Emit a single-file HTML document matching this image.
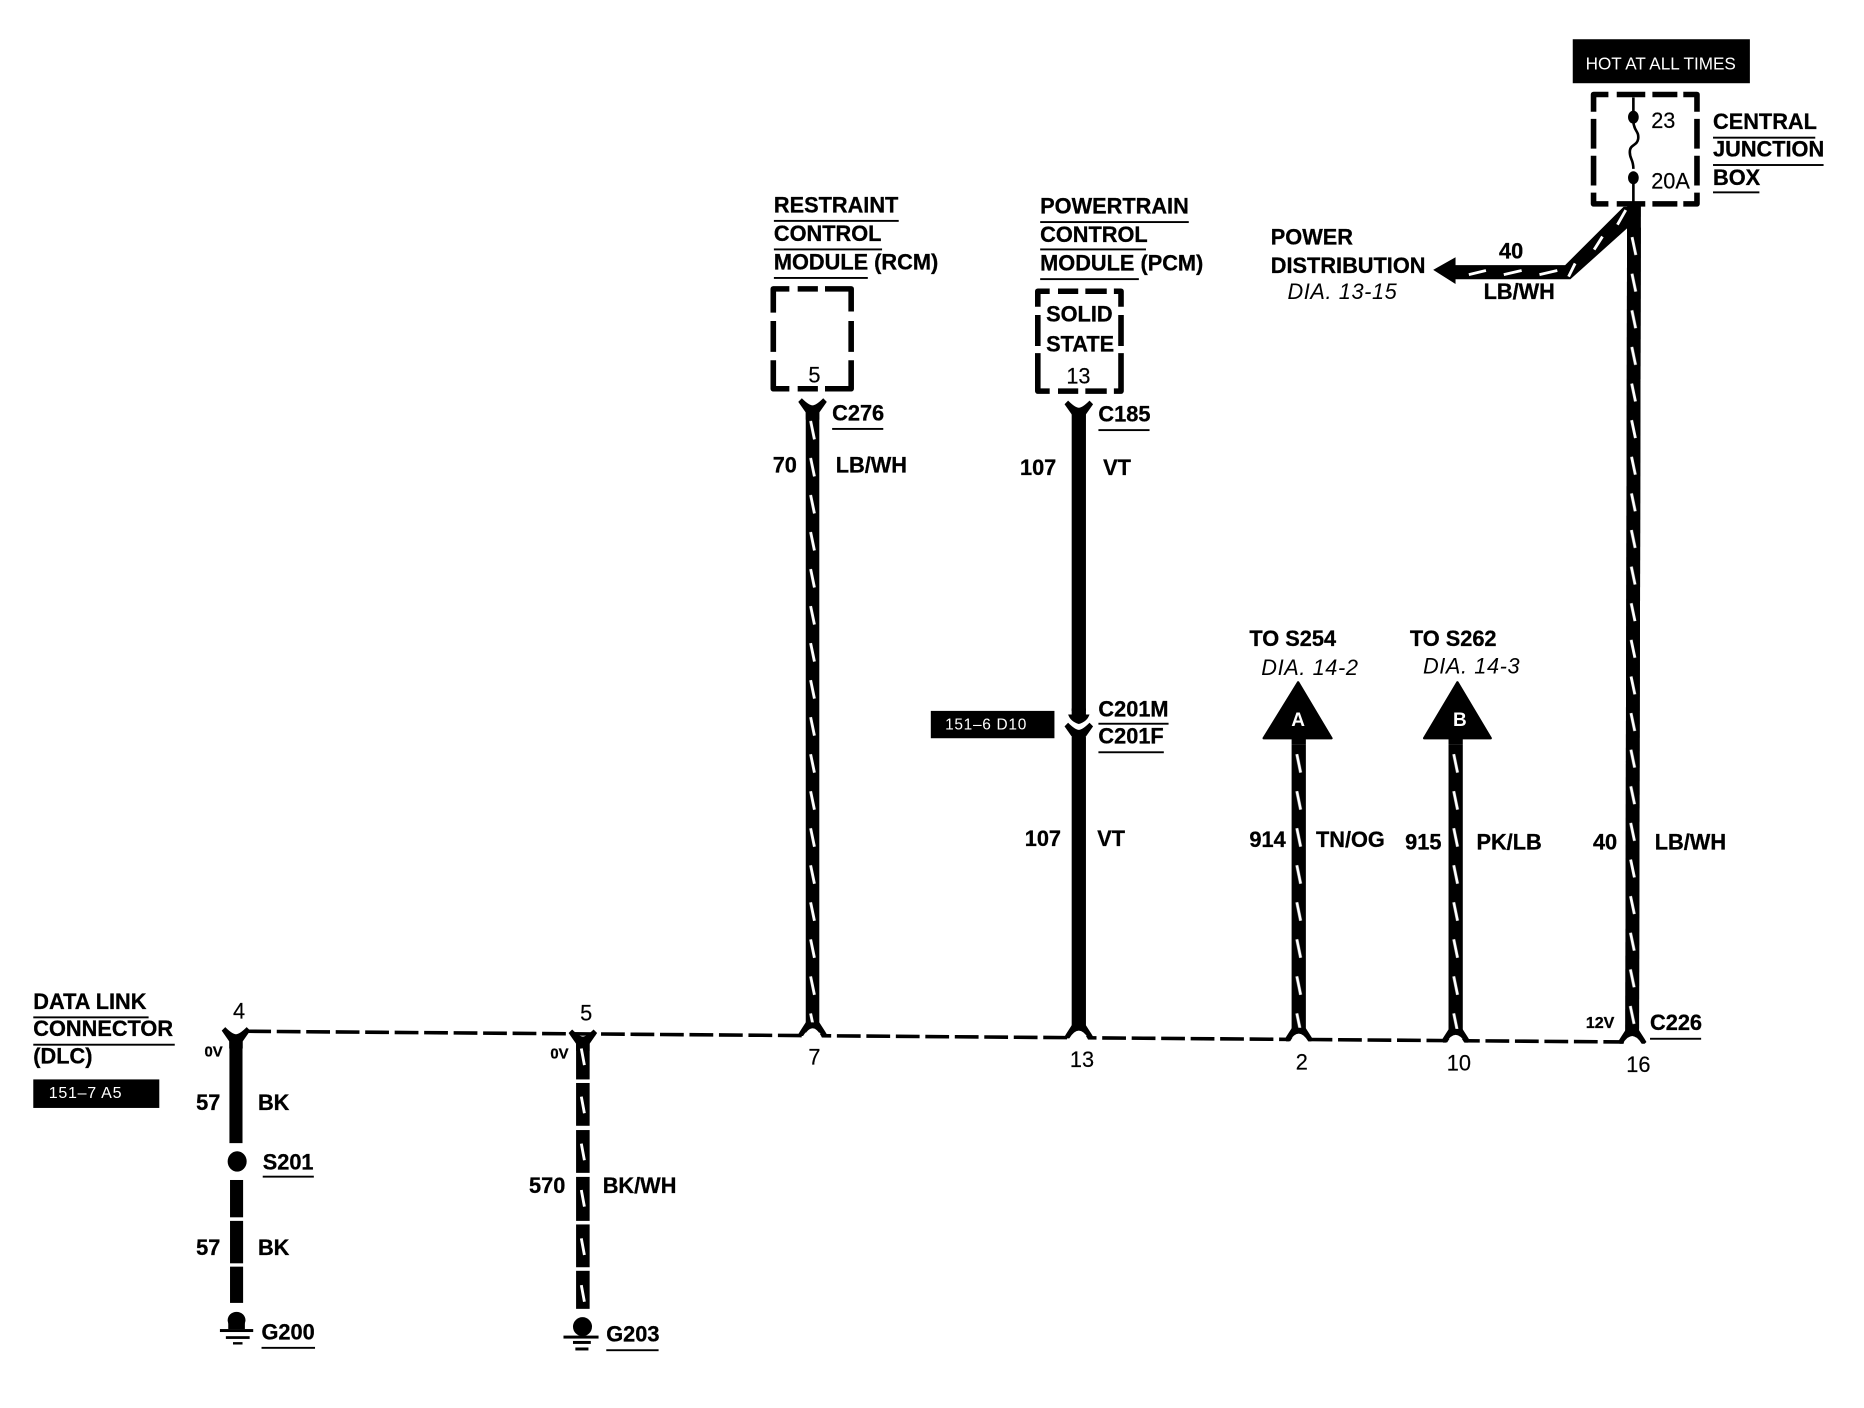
<!DOCTYPE html>
<html><head><meta charset="utf-8"><style>
html,body{margin:0;padding:0;background:#fff}
svg{display:block}
text{font-family:"Liberation Sans",sans-serif;font-weight:700;font-size:18.3px;fill:#000;stroke:#000;stroke-width:.25;transform:translate(0,.6px)}
.r{font-weight:400;stroke-width:.15}
.i{font-weight:400;font-style:italic;stroke-width:0;letter-spacing:.5px}
text.w{fill:#fff;stroke:none}
.s{font-size:13px}
</style></head><body>
<svg width="1864" height="1408" viewBox="0 0 1568 1184.4" xmlns="http://www.w3.org/2000/svg">
<defs>
<pattern id="t0" patternUnits="userSpaceOnUse" x="-7" y="0" width="14" height="31.15">
<rect x="0" y="0" width="14" height="31.15" fill="#000"/><path d="M5.4 8 L8.6 23.5" stroke="#fff" stroke-width="2.4"/>
</pattern>
<pattern id="t1" patternUnits="userSpaceOnUse" x="-7" y="0" width="14" height="30.8">
<rect x="0" y="0" width="14" height="30.8" fill="#000"/><path d="M5.4 8 L8.6 23" stroke="#fff" stroke-width="2.4"/>
</pattern>
<g id="yb"><path d="M-8 3 Q-4 -5 0 -5 Q4 -5 8 3Z" fill="#fff"/><path d="M-5.7 -10 L-10.5 -2.5 L-12 0 L-10.5 1.5 L-8 1.5 Q-4 -5 0 -5 Q4 -5 8 1.5 L10.5 1.5 L12 0 L10.5 -2.5 L5.7 -10Z" fill="#000"/></g>
<g id="yt"><path d="M-12 -6 L-9 -9 Q-3 -3 0 -3 Q3 -3 9 -9 L12 -6 L5.7 3 V9 H-5.7 V3Z" fill="#000"/></g>
</defs>

<!-- junction box -->
<rect x="1323" y="33" width="149" height="37" fill="#000"/>
<text class="r w" x="1397" y="58" text-anchor="middle" style="font-size:14.4px">HOT AT ALL TIMES</text>
<g fill="none" stroke="#000" stroke-width="4.7" stroke-linejoin="round">
<path d="M1340.5 94 V79.5 H1353 M1360 79.5 H1384 M1390 79.5 H1411 M1416 79.5 H1427.5 V94 M1340.5 100 V125 M1427.5 100 V125 M1340.5 131 V156 M1427.5 131 V156 M1340.5 162 V171.5 H1353 M1360 171.5 H1384 M1390 171.5 H1411 M1416 171.5 H1427.5 V162"/>
<path d="M650.5 263 V243 H664 M671 243 H688 M694 243 H716 V262 M650.5 270 V296 M716 270 V296 M650.5 303 V327 H664 M671 327 H688 M694 327 H716 V303"/>
<path d="M873 258 V245 H883 M890 245 H907 M913 245 H931 M937 245 H943 V258 M873 265 V291 M943 265 V291 M873 297 V322 M943 297 V322 M873 322 V329 H883 M890 329 H907 M913 329 H931 M937 329 H943 V322"/>
</g>
<path d="M1374 82 V94 M1374 102 C1374 110 1379 110 1378 117 C1377 123 1371 121 1371 128 C1371 134 1374 134 1374 142 M1374 154 V172" fill="none" stroke="#000" stroke-width="2.2"/>
<ellipse cx="1374" cy="98.5" rx="4.5" ry="5.5"/><ellipse cx="1374" cy="149.5" rx="4.5" ry="5.5"/>
<text class="r" x="1389" y="107">23</text><text class="r" x="1389" y="158">20A</text>
<text x="1441" y="108">CENTRAL</text><rect x="1441" y="115" width="86" height="1.6"/>
<text x="1441" y="131">JUNCTION</text><rect x="1441" y="138" width="93" height="1.6"/>
<text x="1441" y="155">BOX</text><rect x="1441" y="161" width="39" height="1.6"/>

<!-- power distribution -->
<text x="1069" y="205">POWER</text><text x="1069" y="229">DISTRIBUTION</text>
<text class="i" x="1083" y="251">DIA. 13-15</text>
<text x="1261" y="217">40</text><text x="1248" y="251">LB/WH</text>
<path d="M1205.6 227 L1224.4 216.4 V223 H1316.6 L1365.8 173.9 H1375 V190 H1371 L1321 234.9 H1224.4 V238.9Z" fill="#000"/>
<path d="M1235.6 231 L1250 227.5 M1265 231 L1280 227.5 M1295 231 L1310 227.5 M1319.5 232.7 L1325 221.6 M1341 210 L1348 199 M1360.6 189 L1367.6 176.7" stroke="#fff" stroke-width="2.4" fill="none"/>
<g transform="translate(1374.5,191.5) rotate(0.13)"><rect x="-5.8" y="-19" width="11.6" height="700" fill="#000"/><rect x="-5.8" y="0" width="11.6" height="677" fill="url(#t1)"/></g>

<!-- RCM -->
<text x="651" y="178">RESTRAINT</text><rect x="651" y="185" width="105" height="1.6"/>
<text x="651" y="202">CONTROL</text><rect x="651" y="209" width="91" height="1.6"/>
<text x="651" y="226">MODULE (RCM)</text><rect x="651" y="233" width="79" height="1.6"/>
<text class="r" x="680" y="321">5</text>
<use href="#yt" x="683.5" y="344"/>
<g transform="translate(683.5,346.1)"><rect x="-5.7" y="0" width="11.4" height="524" fill="url(#t0)"/></g>
<text x="700" y="353">C276</text><rect x="700" y="360" width="43" height="1.6"/>
<text x="650" y="397">70</text><text x="703" y="397">LB/WH</text>

<!-- PCM -->
<text x="875" y="179">POWERTRAIN</text><rect x="875" y="186" width="125" height="1.6"/>
<text x="875" y="203">CONTROL</text><rect x="875" y="209" width="89" height="1.6"/>
<text x="875" y="227">MODULE (PCM)</text><rect x="875" y="234" width="83" height="1.6"/>
<text x="880" y="270">SOLID</text><text x="880" y="295">STATE</text>
<text class="r" x="897" y="322">13</text>
<use href="#yt" x="907.5" y="346"/>
<rect x="901.5" y="346" width="12" height="252"/>
<path d="M901.5 596 V601 L898.5 601 Q900.5 607 907.5 609 Q914.5 607 916.5 601 L913.5 601 V596Z" fill="#000"/>
<use href="#yt" x="907.5" y="617"/>
<rect x="901.5" y="620" width="12" height="245"/>
<text x="924" y="354">C185</text><rect x="924" y="361" width="43" height="1.6"/>
<text x="858" y="399">107</text><text x="928" y="399">VT</text>
<text x="924" y="602">C201M</text><rect x="924" y="608" width="59" height="1.6"/>
<text x="924" y="625">C201F</text><rect x="924" y="632" width="55" height="1.6"/>
<rect x="783" y="598" width="104" height="23"/>
<text class="r w" x="795" y="613" style="font-size:13px;letter-spacing:.6px">151–6 D10</text>
<text x="862" y="711">107</text><text x="923" y="711">VT</text>

<!-- A -->
<text x="1051" y="543">TO S254</text><text class="i" x="1061" y="567">DIA. 14-2</text>
<path d="M1092 574 L1120 621 H1063Z" fill="#000" stroke="#000" stroke-width="2" stroke-linejoin="round"/>
<text class="w" x="1092" y="610" text-anchor="middle" style="font-size:16px">A</text>
<g transform="translate(1092.5,626.4)"><rect x="-6" y="-6" width="12" height="6" fill="#000"/><rect x="-6" y="0" width="12" height="240" fill="url(#t0)"/></g>
<text x="1051" y="712">914</text><text x="1107" y="712">TN/OG</text>

<!-- B -->
<text x="1186" y="543">TO S262</text><text class="i" x="1197" y="566">DIA. 14-3</text>
<path d="M1226 574 L1254 621 H1198Z" fill="#000" stroke="#000" stroke-width="2" stroke-linejoin="round"/>
<text class="w" x="1228" y="610" text-anchor="middle" style="font-size:16px">B</text>
<g transform="translate(1224.5,626.4)"><rect x="-6" y="-6" width="12" height="6" fill="#000"/><rect x="-6" y="0" width="12" height="241" fill="url(#t0)"/></g>
<text x="1182" y="714">915</text><text x="1242" y="714">PK/LB</text>
<text x="1340" y="714">40</text><text x="1392" y="714">LB/WH</text>

<!-- bus -->
<path d="M208 867.5 L1366 876.5" stroke="#000" stroke-width="3" stroke-dasharray="20 4.8" fill="none"/>
<use href="#yb" x="683.5" y="870"/><use href="#yb" x="907.5" y="872"/><use href="#yb" x="1092.5" y="874.5"/><use href="#yb" x="1224.5" y="875.5"/><use href="#yb" x="1373" y="876.5"/>
<text class="r" x="680" y="895">7</text><text class="r" x="900" y="897">13</text><text class="r" x="1090" y="899">2</text><text class="r" x="1217" y="900">10</text><text class="r" x="1368" y="901">16</text>
<text x="1334" y="864" style="font-size:13.5px">12V</text>
<text x="1388" y="866">C226</text><rect x="1388" y="873" width="43" height="1.6"/>

<!-- DLC -->
<text x="28" y="848">DATA LINK</text><rect x="28" y="855" width="97" height="1.6"/>
<text x="28" y="871">CONNECTOR</text><rect x="28" y="878" width="119" height="1.6"/>
<text x="28" y="894">(DLC)</text>
<rect x="28" y="908" width="106" height="24"/>
<text class="r w" x="41" y="923" style="font-size:13.5px;letter-spacing:.6px">151–7 A5</text>
<text class="r" x="196" y="856">4</text><text class="r" x="488" y="858">5</text>
<text x="172" y="888" style="font-size:12.5px">0V</text><text x="463" y="890" style="font-size:12.5px">0V</text>
<use href="#yt" x="198.5" y="873"/>
<rect x="193" y="875" width="11" height="86.6"/>
<ellipse cx="199.5" cy="977" rx="8" ry="8.6"/>
<rect x="193.5" y="992.6" width="11" height="31.4"/><rect x="193.5" y="1027" width="11" height="35.7"/><rect x="193.5" y="1065.5" width="11" height="30.5"/>
<text x="165" y="933">57</text><text x="217" y="933">BK</text>
<text x="221" y="983">S201</text><rect x="221" y="989" width="43" height="1.6"/>
<text x="165" y="1055">57</text><text x="217" y="1055">BK</text>
<ellipse cx="199" cy="1110.5" rx="7.5" ry="7"/><rect x="192" y="1110" width="14" height="8"/>
<rect x="185" y="1118" width="28" height="2.5"/><rect x="190" y="1124" width="20" height="2.3"/><rect x="196" y="1129" width="8" height="2"/>
<text x="220" y="1126">G200</text><rect x="220" y="1133" width="45" height="1.6"/>

<!-- 570 -->
<use href="#yt" x="490.3" y="875"/>
<g fill="#000">
<rect x="484.6" y="876" width="11.4" height="32"/>
<rect x="484.6" y="911" width="11.4" height="36"/>
<rect x="484.6" y="950.6" width="11.4" height="36"/>
<rect x="484.6" y="990" width="11.4" height="37"/>
<rect x="484.6" y="1030" width="11.4" height="36"/>
<rect x="484.6" y="1069" width="11.4" height="32"/>
</g>
<path d="M489 882 L491.6 896 M489 922.5 L491.6 936.5 M489 962 L491.6 976 M489 1001 L491.6 1015 M489 1041.7 L491.6 1055.7 M489 1081 L491.6 1095" stroke="#fff" stroke-width="2.4" fill="none"/>
<text x="445" y="1003">570</text><text x="507" y="1003">BK/WH</text>
<ellipse cx="490" cy="1116" rx="8" ry="8"/>
<rect x="474" y="1123.5" width="29.5" height="2.5"/><rect x="482" y="1128" width="15" height="2.5"/><rect x="484" y="1133.5" width="11" height="2.5"/>
<text x="510" y="1128">G203</text><rect x="510" y="1135" width="44" height="1.6"/>
</svg>
</body></html>
